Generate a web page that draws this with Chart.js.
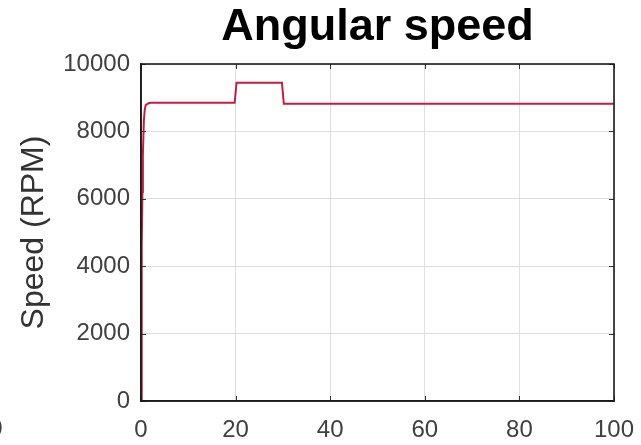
<!DOCTYPE html>
<html>
<head>
<meta charset="utf-8">
<script src="https://cdn.jsdelivr.net/npm/chart.js@4.4.0/dist/chart.umd.min.js"></script>
<style>
  html, body { margin: 0; padding: 0; background: #ffffff; }
  #wrap { width: 641px; height: 445px; }
</style>
</head>
<body>
<div id="wrap"><canvas id="c" width="641" height="445"></canvas></div>
<script>
// Data
const timeValues  = [0, 0.1, 0.2, 0.3, 0.4, 0.6, 0.8, 1.0, 1.5, 2, 19.8, 20.2, 29.8, 30.2, 100];
const speedValues = [0, 2500, 4600, 6200, 7300, 8300, 8650, 8780, 8830, 8850, 8850, 9445, 9445, 8820, 8820];
const xTicks = [0, 20, 40, 60, 80, 100];
const yTicks = [0, 2000, 4000, 6000, 8000, 10000];
const chartTitle = 'Angular speed';
const yAxisTitle = 'Speed (RPM)';
const strayLabel = '0';

const points = timeValues.map((t, i) => ({ x: t, y: speedValues[i] }));

const FONT = 'Liberation Sans, Arial, Helvetica, sans-serif';

const boxPlugin = {
  id: 'boxPlugin',
  afterDatasetsDraw(chart) {
    const { ctx, chartArea: a, scales } = chart;
    ctx.save();
    // inward tick marks on all four sides
    ctx.strokeStyle = '#333333';
    ctx.lineWidth = 1;
    const tl = 5;
    scales.x.ticks.forEach(t => {
      const px = Math.round(scales.x.getPixelForValue(t.value)) + 0.5;
      ctx.beginPath();
      ctx.moveTo(px, a.bottom); ctx.lineTo(px, a.bottom - tl);
      ctx.moveTo(px, a.top); ctx.lineTo(px, a.top + tl);
      ctx.stroke();
    });
    scales.y.ticks.forEach(t => {
      const py = Math.round(scales.y.getPixelForValue(t.value)) + 0.5;
      ctx.beginPath();
      ctx.moveTo(a.left, py); ctx.lineTo(a.left + tl, py);
      ctx.moveTo(a.right, py); ctx.lineTo(a.right - tl, py);
      ctx.stroke();
    });
    // frame
    ctx.strokeStyle = '#1a1a1a';
    ctx.lineWidth = 1.6;
    ctx.strokeRect(a.left, a.top, a.right - a.left, a.bottom - a.top);
    // stray cropped tick label from a neighbouring panel
    ctx.fillStyle = '#404040';
    ctx.font = '24px ' + FONT;
    ctx.textAlign = 'center';
    ctx.textBaseline = 'middle';
    ctx.fillText(strayLabel, -4, 429);
    ctx.restore();
  }
};

new Chart(document.getElementById('c'), {
  type: 'line',
  data: {
    datasets: [{
      data: points,
      borderColor: '#c21e3f',
      borderWidth: 2,
      pointRadius: 0,
      tension: 0,
      fill: false
    }]
  },
  options: {
    responsive: false,
    animation: false,
    devicePixelRatio: 1,
    layout: { padding: { left: 0, right: 27, top: 0, bottom: 0 } },
    plugins: {
      legend: { display: false },
      tooltip: { enabled: false },
      title: {
        display: true,
        text: chartTitle,
        fullSize: false,
        color: '#000000',
        font: { family: FONT, size: 45, weight: 'bold', lineHeight: 1.2 },
        padding: { top: 1, bottom: 9 }
      }
    },
    scales: {
      x: {
        type: 'linear',
        min: 0, max: 100,
        afterBuildTicks(scale) { scale.ticks = xTicks.map(v => ({ value: v })); },
        afterFit(scale) { scale.height = 44; scale.paddingLeft = 0; scale.paddingRight = 0; },
        grid: { color: '#dedede', lineWidth: 1, drawTicks: false },
        border: { display: true, color: '#1a1a1a', width: 1.6 },
        ticks: {
          color: '#404040',
          padding: 15,
          maxRotation: 0,
          font: { family: FONT, size: 24 }
        }
      },
      y: {
        type: 'linear',
        min: 0, max: 10000,
        afterBuildTicks(scale) { scale.ticks = yTicks.map(v => ({ value: v })); },
        afterFit(scale) { scale.width = 141; scale.paddingTop = 0; scale.paddingBottom = 0; },
        grid: { color: '#dedede', lineWidth: 1, drawTicks: false },
        border: { display: true, color: '#1a1a1a', width: 1.6 },
        ticks: {
          color: '#404040',
          padding: 11,
          font: { family: FONT, size: 24 },
          callback: v => String(v)
        },
        title: {
          display: true,
          text: yAxisTitle,
          color: '#333333',
          font: { family: FONT, size: 32 },
          padding: { top: 15, bottom: 0 }
        }
      }
    }
  },
  plugins: [boxPlugin]
});
</script>
</body>
</html>
